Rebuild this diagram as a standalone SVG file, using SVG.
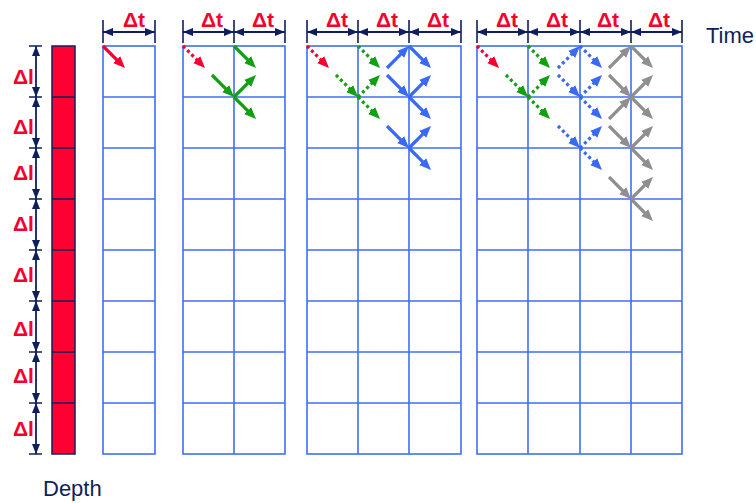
<svg xmlns="http://www.w3.org/2000/svg" width="756" height="503" viewBox="0 0 756 503">
<defs>
<style>
.grid{fill:none;stroke:#3f6ff2;stroke-width:1.6}
.bar{fill:#ff0033;stroke:#0f1f5c;stroke-width:1.5}
.barline{stroke:#0f1f5c;stroke-width:1.5}
.dim{fill:none;stroke:#0f1f5c;stroke-width:1.8;marker-start:url(#dimh);marker-end:url(#dimh)}
.tick{stroke:#0f1f5c;stroke-width:1.6}
.lbl{font-family:"Liberation Sans",Arial,sans-serif;font-weight:bold;font-size:21px;fill:#f5002f}
.ttl{font-family:"Liberation Sans",Arial,sans-serif;font-size:22px;fill:#0f1f5c}
.arr{fill:none;stroke-width:3.2}
.dot{stroke-dasharray:3 3}
.red{stroke:#f5002f;marker-end:url(#ah-red)}
.grn{stroke:#12a012;marker-end:url(#ah-grn)}
.blu{stroke:#3a6af5;marker-end:url(#ah-blu)}
.gry{stroke:#8f8f8f;marker-end:url(#ah-gry)}
</style>
<marker id="dimh" viewBox="0 0 10 8" refX="10" refY="4" markerWidth="10" markerHeight="8" markerUnits="userSpaceOnUse" orient="auto-start-reverse"><path d="M0,0 L10,4 L0,8 z" fill="#0f1f5c"/></marker>
<marker id="ah-red" viewBox="0 0 12 10" refX="6" refY="5" markerWidth="12" markerHeight="10" markerUnits="userSpaceOnUse" orient="auto"><path d="M0,0 L12,5 L0,10 z" fill="#f5002f"/></marker>
<marker id="ah-grn" viewBox="0 0 12 10" refX="6" refY="5" markerWidth="12" markerHeight="10" markerUnits="userSpaceOnUse" orient="auto"><path d="M0,0 L12,5 L0,10 z" fill="#12a012"/></marker>
<marker id="ah-blu" viewBox="0 0 12 10" refX="6" refY="5" markerWidth="12" markerHeight="10" markerUnits="userSpaceOnUse" orient="auto"><path d="M0,0 L12,5 L0,10 z" fill="#3a6af5"/></marker>
<marker id="ah-gry" viewBox="0 0 12 10" refX="6" refY="5" markerWidth="12" markerHeight="10" markerUnits="userSpaceOnUse" orient="auto"><path d="M0,0 L12,5 L0,10 z" fill="#8f8f8f"/></marker>
</defs>
<rect width="756" height="503" fill="#ffffff"/>

<g id="depth-bar">
<rect class="bar" x="52" y="46" width="23" height="408"/>
<path class="barline" d="M52 97H75M52 148H75M52 199H75M52 250H75M52 301H75M52 352H75M52 403H75"/>
</g>

<g id="depth-dimension">
<path class="tick" d="M29 46H42M29 97H42M29 148H42M29 199H42M29 250H42M29 301H42M29 352H42M29 403H42M29 454H42"/>
<path class="dim" d="M36 46V97"/>
<path class="dim" d="M36 97V148"/>
<path class="dim" d="M36 148V199"/>
<path class="dim" d="M36 199V250"/>
<path class="dim" d="M36 250V301"/>
<path class="dim" d="M36 301V352"/>
<path class="dim" d="M36 352V403"/>
<path class="dim" d="M36 403V454"/>
<text class="lbl" x="13" y="84">Δl</text>
<text class="lbl" x="13" y="134">Δl</text>
<text class="lbl" x="13" y="180">Δl</text>
<text class="lbl" x="13" y="231">Δl</text>
<text class="lbl" x="13" y="282">Δl</text>
<text class="lbl" x="13" y="336">Δl</text>
<text class="lbl" x="13" y="383">Δl</text>
<text class="lbl" x="13" y="436">Δl</text>
</g>

<g id="time-dimension">
<path class="tick" d="M103 20V43M155 20V43M183 20V43M234 20V43M285 20V43M307 20V43M358 20V43M409 20V43M461 20V43M477 20V43M528 20V43M580 20V43M631 20V43M682 20V43"/>
<path class="dim" d="M103 32H155"/>
<path class="dim" d="M183 32H234"/>
<path class="dim" d="M234 32H285"/>
<path class="dim" d="M307 32H358"/>
<path class="dim" d="M358 32H409"/>
<path class="dim" d="M409 32H461"/>
<path class="dim" d="M477 32H528"/>
<path class="dim" d="M528 32H580"/>
<path class="dim" d="M580 32H631"/>
<path class="dim" d="M631 32H682"/>
<g text-anchor="middle">
<text class="lbl" x="134" y="27">Δt</text>
<text class="lbl" x="212" y="27">Δt</text>
<text class="lbl" x="263" y="27">Δt</text>
<text class="lbl" x="337" y="27">Δt</text>
<text class="lbl" x="387" y="27">Δt</text>
<text class="lbl" x="438" y="27">Δt</text>
<text class="lbl" x="507" y="27">Δt</text>
<text class="lbl" x="557" y="27">Δt</text>
<text class="lbl" x="608" y="27">Δt</text>
<text class="lbl" x="659" y="27">Δt</text>
</g>
</g>

<g id="grid1">
<rect class="grid" x="103" y="46" width="52" height="408"/>
<path class="grid" d="M103 97H155M103 148H155M103 199H155M103 250H155M103 301H155M103 352H155M103 403H155"/>
</g>
<g id="grid2">
<rect class="grid" x="183" y="46" width="102" height="408"/>
<path class="grid" d="M234 46V454M183 97H285M183 148H285M183 199H285M183 250H285M183 301H285M183 352H285M183 403H285"/>
</g>
<g id="grid3">
<rect class="grid" x="307" y="46" width="154" height="408"/>
<path class="grid" d="M358 46V454M409 46V454M307 97H461M307 148H461M307 199H461M307 250H461M307 301H461M307 352H461M307 403H461"/>
</g>
<g id="grid4">
<rect class="grid" x="477" y="46" width="205" height="408"/>
<path class="grid" d="M528 46V454M580 46V454M631 46V454M477 97H682M477 148H682M477 199H682M477 250H682M477 301H682M477 352H682M477 403H682"/>
</g>

<g id="connectors">
<path class="arr red" d="M103 46l17.8 17.8"/>

<path class="arr red dot" d="M183 46l17.8 17.8"/>
<path class="arr grn" d="M212 75l17.8 17.8"/>
<path class="arr grn" d="M234 46l17.8 17.8"/>
<path class="arr grn" d="M234 97l17.8 -17.8"/>
<path class="arr grn" d="M234 97l17.8 17.8"/>

<path class="arr red dot" d="M307 46l17.8 17.8"/>
<path class="arr grn dot" d="M336 75l17.8 17.8"/>
<path class="arr grn dot" d="M358 46l17.8 17.8"/>
<path class="arr grn dot" d="M358 97l17.8 -17.8"/>
<path class="arr grn dot" d="M358 97l17.8 17.8"/>
<path class="arr blu" d="M387 68l17.8 -17.8"/>
<path class="arr blu" d="M387 75l17.8 17.8"/>
<path class="arr blu" d="M387 126l17.8 17.8"/>
<path class="arr blu" d="M409 46l17.8 17.8"/>
<path class="arr blu" d="M409 97l17.8 -17.8"/>
<path class="arr blu" d="M409 97l17.8 17.8"/>
<path class="arr blu" d="M409 148l17.8 -17.8"/>
<path class="arr blu" d="M409 148l17.8 17.8"/>

<path class="arr red dot" d="M477 46l17.8 17.8"/>
<path class="arr grn dot" d="M506 75l17.8 17.8"/>
<path class="arr grn dot" d="M528 46l17.8 17.8"/>
<path class="arr grn dot" d="M528 97l17.8 -17.8"/>
<path class="arr grn dot" d="M528 97l17.8 17.8"/>
<path class="arr blu dot" d="M558 68l17.8 -17.8"/>
<path class="arr blu dot" d="M558 75l17.8 17.8"/>
<path class="arr blu dot" d="M558 126l17.8 17.8"/>
<path class="arr blu dot" d="M580 46l17.8 17.8"/>
<path class="arr blu dot" d="M580 97l17.8 -17.8"/>
<path class="arr blu dot" d="M580 97l17.8 17.8"/>
<path class="arr blu dot" d="M580 148l17.8 -17.8"/>
<path class="arr blu dot" d="M580 148l17.8 17.8"/>
<path class="arr gry" d="M609 68l17.8 -17.8"/>
<path class="arr gry" d="M609 75l17.8 17.8"/>
<path class="arr gry" d="M609 119l17.8 -17.8"/>
<path class="arr gry" d="M609 126l17.8 17.8"/>
<path class="arr gry" d="M609 177l17.8 17.8"/>
<path class="arr gry" d="M631 46l17.8 17.8"/>
<path class="arr gry" d="M631 97l17.8 -17.8"/>
<path class="arr gry" d="M631 97l17.8 17.8"/>
<path class="arr gry" d="M631 148l17.8 -17.8"/>
<path class="arr gry" d="M631 148l17.8 17.8"/>
<path class="arr gry" d="M631 199l17.8 -17.8"/>
<path class="arr gry" d="M631 199l17.8 17.8"/>
</g>

<text class="ttl" x="706" y="43">Time</text>
<text class="ttl" x="43" y="496">Depth</text>
</svg>
